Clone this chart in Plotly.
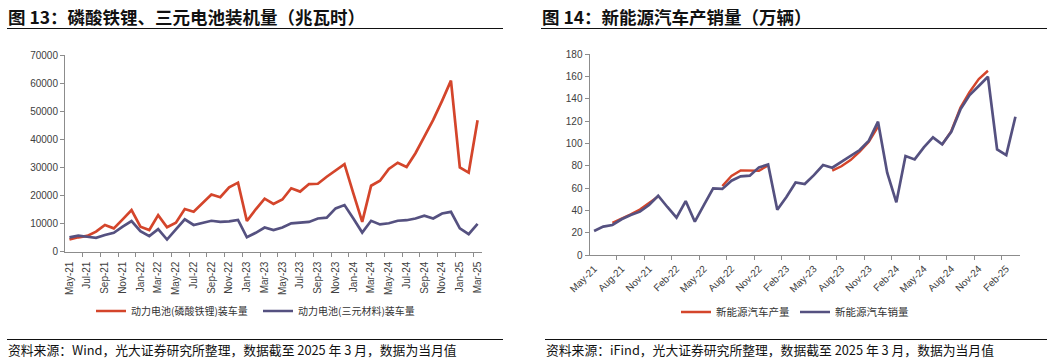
import plotly.graph_objects as go
import pandas as pd

# ---------------- data ----------------
months = [d.strftime("%b-%y") for d in pd.date_range("2021-05-01", "2025-03-01", freq="MS")]

# 图13 (MWh)
lfp_install = [4300, 5100, 5600, 7100, 9500, 8300, 11500, 14800, 8900, 7700, 13000, 8700,
               10300, 15200, 14200, 17200, 20400, 19400, 22900, 24600, 10900, 15100, 18900, 17000,
               18600, 22600, 21400, 24100, 24200, 26700, 28900, 31200, 20800, 10600, 23500, 25300,
               29500, 31700, 30200, 35100, 41000, 47000, 53800, 61000, 30000, 28200, 46900]
ncm_install = [5100, 5700, 5300, 4900, 5900, 6700, 8900, 10900, 7300, 5500, 8000, 4300,
               7900, 11500, 9500, 10300, 11000, 10600, 10800, 11300, 5100, 6700, 8600, 7700,
               8600, 10100, 10400, 10600, 11800, 12100, 15400, 16600, 11800, 6800, 11000, 9700,
               10100, 11000, 11200, 11800, 12800, 11800, 13600, 14200, 8300, 6200, 9900]

# 图14 (万辆)
nev_sales = [21.5, 25.4, 26.9, 32.0, 35.8, 38.8, 44.8, 53.1, 43.0, 33.4, 48.3, 29.8,
             44.8, 59.7, 59.2, 66.5, 70.4, 71.0, 78.5, 81.0, 40.5, 52.0, 65.0, 63.5,
             71.5, 80.6, 78.2, 83.6, 88.6, 94.0, 102.4, 119.4, 73.7, 47.2, 88.6, 85.6,
             96.4, 105.3, 99.1, 110.4, 130.4, 143.2, 151.3, 159.6, 94.6, 89.5, 123.8]
nev_prod = [None, None, 28.9, 32.5, 36.5, 40.8, 46.8, 52.5, None, None, None, None,
            None, None, 61.8, 70.7, 75.8, 75.5, 75.5, 80.2, None, None, None, None,
            None, None, 75.5, 79.5, 85.0, 92.5, 101.5, 115.0, None, None, None, None,
            None, None, 98.8, 111.0, 132.0, 146.0, 157.5, 165.0, None, None, None]

left_names = ["动力电池(磷酸铁锂)装车量", "动力电池(三元材料)装车量"]
right_names = ["新能源汽车产量", "新能源汽车销量"]
titles = ["图 13：磷酸铁锂、三元电池装机量（兆瓦时）", "图 14：新能源汽车产销量（万辆）"]
sources = ["资料来源：Wind，光大证券研究所整理，数据截至 2025 年 3 月，数据为当月值",
           "资料来源：iFind，光大证券研究所整理，数据截至 2025 年 3 月，数据为当月值"]

# ---------------- style ----------------
W, H = 1055, 361
RED = "#D4452B"
PURPLE = "#555180"
AXIS = "#8C8C8C"
TICKC = "#404040"
CJK = "Noto Sans CJK SC"
LAT = "Liberation Sans, Arial, sans-serif"

def px(x):
    return x / W

def py(y):
    return 1 - y / H

idx = list(range(len(months)))

fig = go.Figure()
fig.add_trace(go.Scatter(x=idx, y=lfp_install, name=left_names[0], mode="lines",
                         line=dict(color=RED, width=2.7), xaxis="x", yaxis="y", legend="legend"))
fig.add_trace(go.Scatter(x=idx, y=ncm_install, name=left_names[1], mode="lines",
                         line=dict(color=PURPLE, width=2.7), xaxis="x", yaxis="y", legend="legend"))
fig.add_trace(go.Scatter(x=idx, y=nev_prod, name=right_names[0], mode="lines", connectgaps=False,
                         line=dict(color=RED, width=2.4), xaxis="x2", yaxis="y2", legend="legend2"))
fig.add_trace(go.Scatter(x=idx, y=nev_sales, name=right_names[1], mode="lines",
                         line=dict(color=PURPLE, width=2.7), xaxis="x2", yaxis="y2", legend="legend2"))

n = len(months)
common_x = dict(range=[-0.5, n - 0.5], showline=True, linecolor=AXIS, linewidth=1, ticks="",
                showgrid=False, zeroline=False, automargin=False,
                tickfont=dict(family=LAT, size=10, color=TICKC))
common_y = dict(showline=True, linecolor=AXIS, linewidth=1, ticks="outside", ticklen=4,
                tickcolor=AXIS, showgrid=False, zeroline=False, automargin=False,
                tickformat="d", tickfont=dict(family=LAT, size=10, color=TICKC))

fig.update_layout(
    template="none",
    width=W, height=H, margin=dict(l=0, r=0, t=0, b=0, pad=0, autoexpand=False),
    paper_bgcolor="white", plot_bgcolor="white",
    xaxis=dict(domain=[px(65), px(482)], anchor="y", tickmode="array",
               tickvals=idx[::2], ticktext=months[::2], tickangle=-90, ticklabelstandoff=5,
               minor=dict(tickmode="array", tickvals=[i + 1.5 for i in idx[:-1:2]],
                          ticks="outside", ticklen=4, tickcolor=AXIS),
               **common_x),
    yaxis=dict(domain=[py(251.6), py(55.4)], anchor="x", range=[0, 70000], dtick=10000,
               **common_y),
    xaxis2=dict(domain=[px(589.5), px(1020)], anchor="y2", tickmode="array",
                tickvals=idx[::3], ticktext=months[::3], tickangle=-45, ticklabelstandoff=3,
                minor=dict(tickmode="array", tickvals=[i + 2.5 for i in idx[:-3:3]],
                           ticks="outside", ticklen=4, tickcolor=AXIS),
                **common_x),
    yaxis2=dict(domain=[py(255), py(54)], anchor="x2", range=[0, 180], dtick=20,
                **common_y),
    legend=dict(orientation="h", x=px(91), y=py(311), xanchor="left", yanchor="middle",
                font=dict(family=CJK, size=10, color="#333333"), bgcolor="rgba(0,0,0,0)",
                itemwidth=30, tracegroupgap=0, entrywidth=122, entrywidthmode="pixels"),
    legend2=dict(orientation="h", x=px(676), y=py(312), xanchor="left", yanchor="middle",
                 font=dict(family=CJK, size=10.5, color="#333333"), bgcolor="rgba(0,0,0,0)",
                 itemwidth=30, tracegroupgap=0),
    showlegend=True,
)

# titles, rules and sources
for tx, x0, x1 in [(titles[0], 7, 503), (titles[1], 541, 1047)]:
    fig.add_annotation(text="<b>" + tx + "</b>", xref="paper", yref="paper", x=px(x0 - 1), y=py(16),
                       xanchor="left", yanchor="middle", showarrow=False,
                       font=dict(family=CJK, size=17.5, color="#111111"))
    fig.add_shape(type="line", xref="paper", yref="paper", x0=px(x0), x1=px(x1),
                  y0=py(28.5), y1=py(28.5), line=dict(color="#111111", width=1.2))

for tx, x0, x1 in [(sources[0], 7, 503), (sources[1], 545, 1047)]:
    fig.add_shape(type="line", xref="paper", yref="paper", x0=px(x0), x1=px(x1),
                  y0=py(339.5), y1=py(339.5), line=dict(color="#111111", width=1.2))
    fig.add_annotation(text=tx, xref="paper", yref="paper", x=px(x0 - 1), y=py(349.5),
                       xanchor="left", yanchor="middle", showarrow=False,
                       font=dict(family=CJK, size=12.8, color="#111111"))

fig.write_html("out.html", config={"displayModeBar": False},
               post_script="document.body.style.margin='0';document.body.style.overflow='hidden';")
